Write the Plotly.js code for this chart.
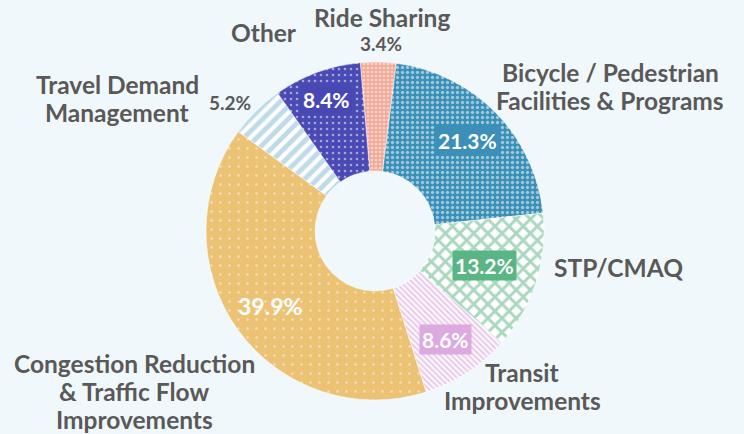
<!DOCTYPE html>
<html>
<head>
<meta charset="utf-8">
<script src="https://cdn.plot.ly/plotly-3.0.1.min.js"></script>
<style>html,body{margin:0;padding:0;background:#f1f8fc;}</style>
</head>
<body>
<div id="chart" style="width:744px;height:434px;"></div>
<script>
// ---- data ----
const categories = ["Ride Sharing", "Bicycle / Pedestrian Facilities & Programs", "STP/CMAQ",
  "Transit Improvements", "Congestion Reduction & Traffic Flow Improvements",
  "Travel Demand Management", "Other"];
const labelLines = [["Ride Sharing"], ["Bicycle / Pedestrian", "Facilities & Programs"], ["STP/CMAQ"],
  ["Transit", "Improvements"], ["Congestion Reduction", "& Traffic Flow", "Improvements"],
  ["Travel Demand", "Management"], ["Other"]];
const shares = [3.4, 21.3, 13.2, 8.6, 39.9, 5.2, 8.4];

// ---- styles ----
const bgColors = ["#fbd3c7", "#3a8fb7", "#ffffff", "#ffffff", "#ecc274", "#ffffff", "#4a4ab5"];
const fgColors = ["#e9765e", "#ffffff", "#55b27f", "#d699d8", "#ffffff", "#7fb8d3", "#ffffff"];
const shapes   = ["+", ".", "x", "\\", ".", "/", "."];
const psizes   = [4, 5, 10, 4, 9, 9, 6];
const solid    = [0.55, 0.35, 0.5, 0.55, 0.06, 0.55, 0.15];
const boxColors = ["#e8806a", "#3b8fb8", "#5ab584", "#dcaae0", "#ecc274", "#8bbfd6", "#4848b5"];
const insideLabel = [false, true, true, true, true, false, true];
const insideRadius = [0, 129, 115, 130, 129, 0, 140];

const rotation = -5;
const W = 744, H = 434;
const M = {l: 206, r: 200, t: 62, b: 34};
const PW = W - M.l - M.r, PH = H - M.t - M.b;
const TXT = "#595959";
const FONT = "Lato, 'Open Sans', sans-serif";
const NAME_SIZE = 24.5, LINE_GAP = 28;

function px(x, y) { return {x: (x - M.l) / PW, y: (H - M.b - y) / PH}; }

const total = shares.reduce((a, b) => a + b, 0);
const annotations = [];
let cum = 0;
shares.forEach((v, i) => {
  const mid = cum + v / 2;
  cum += v;
  if (!insideLabel[i]) return;
  const th = (rotation + mid / total * 360) * Math.PI / 180;
  const r = insideRadius[i];
  annotations.push({
    xref: "paper", yref: "paper", xanchor: "center", yanchor: "middle",
    x: 0.5 + r * Math.sin(th) / PW, y: 0.5 + r * Math.cos(th) / PH,
    text: v.toFixed(1) + "%", showarrow: false,
    font: {family: FONT, size: i === 4 ? 23 : 21, color: "#ffffff", weight: 700},
    bgcolor: i === 4 ? "rgba(0,0,0,0)" : boxColors[i], borderpad: 2
  });
});

// category name labels (outside): [center x or left x, first-line y, anchor]
const namePos = [[382, 17, "center"], [610, 72, "center"], [552, 267, "left"], [522, 372, "center"],
  [134, 363, "center"], [117, 84, "center"], [264, 33, "center"]];
labelLines.forEach((lines, i) => {
  lines.forEach((t, j) => {
    const p = px(namePos[i][0], namePos[i][1] + j * LINE_GAP);
    annotations.push({xref: "paper", yref: "paper", x: p.x, y: p.y, text: t, showarrow: false,
      xanchor: namePos[i][2], yanchor: "middle", align: "center",
      font: {family: FONT, size: NAME_SIZE, color: TXT, weight: 700}});
  });
});
// outside percentages
const outPos = {0: [381, 44], 5: [230, 102]};
Object.keys(outPos).forEach(k => {
  const i = +k, p = px(outPos[k][0], outPos[k][1]);
  annotations.push({xref: "paper", yref: "paper", x: p.x, y: p.y, xanchor: "center", yanchor: "middle",
    text: shares[i].toFixed(1) + "%",
    showarrow: false, font: {family: FONT, size: 19, color: TXT, weight: 700}});
});

const trace = {
  type: "pie",
  labels: categories,
  values: shares,
  sort: false,
  direction: "clockwise",
  rotation: rotation,
  hole: 0.355,
  textinfo: "none",
  hoverinfo: "none",
  marker: {
    colors: bgColors,
    line: {color: "#ffffff", width: 0.5},
    pattern: {shape: shapes, fgcolor: fgColors, bgcolor: bgColors, size: psizes, solidity: solid, fillmode: "overlay"}
  }
};

const layout = {
  width: W, height: H,
  paper_bgcolor: "#f1f8fc",
  margin: M,
  showlegend: false,
  annotations: annotations
};

Plotly.newPlot("chart", [trace], layout, {displayModeBar: false, staticPlot: true});
</script>
</body>
</html>
